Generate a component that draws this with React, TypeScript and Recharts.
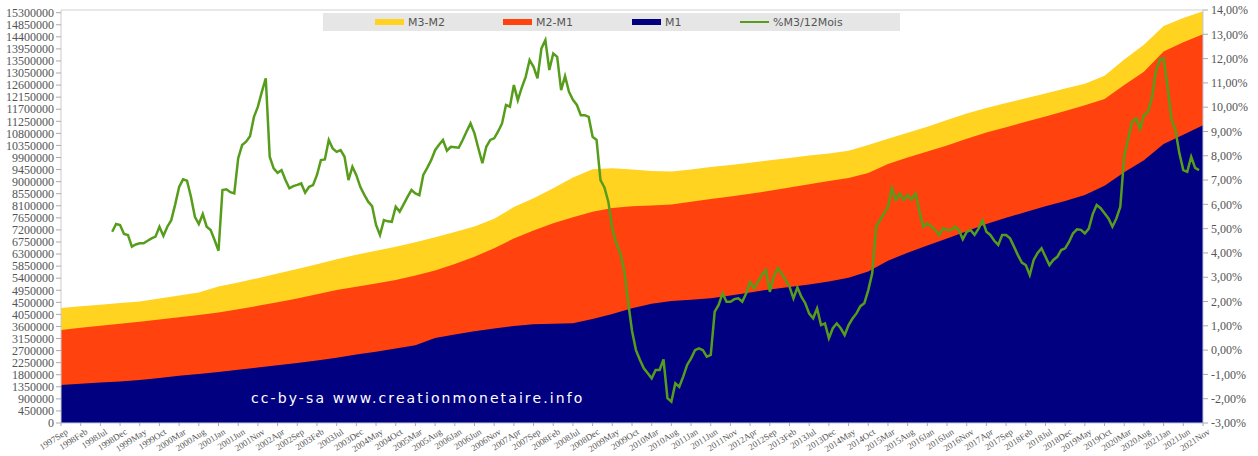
import React from "react";
import { ComposedChart, Area, Line, XAxis, YAxis, ReferenceLine } from "recharts";

// x-axis labels, one every 5 months (also the months the money aggregates are read at)
const TICK_LABELS = [
  "1997Sep", "1998Feb", "1998Jul", "1998Dec", "1999May", "1999Oct", "2000Mar", "2000Aug",
  "2001Jan", "2001Jun", "2001Nov", "2002Apr", "2002Sep", "2003Feb", "2003Jul", "2003Dec",
  "2004May", "2004Oct", "2005Mar", "2005Aug", "2006Jan", "2006Jun", "2006Nov", "2007Apr",
  "2007Sep", "2008Feb", "2008Jul", "2008Dec", "2009May", "2009Oct", "2010Mar", "2010Aug",
  "2011Jan", "2011Jun", "2011Nov", "2012Apr", "2012Sep", "2013Feb", "2013Jul", "2013Dec",
  "2014May", "2014Oct", "2015Mar", "2015Aug", "2016Jan", "2016Jun", "2016Nov", "2017Apr",
  "2017Sep", "2018Feb", "2018Jul", "2018Dec", "2019May", "2019Oct", "2020Mar", "2020Aug",
  "2021Jan", "2021Jun", "2021Nov",
];

// top of each band (M3 total, M2, M1), same months as TICK_LABELS
const M3 = [
  4290000, 4350000, 4410000, 4470000, 4530000, 4640000, 4750000, 4870000, 5090000, 5240000,
  5400000, 5570000, 5740000, 5920000, 6110000, 6270000, 6420000, 6570000, 6740000, 6930000,
  7120000, 7330000, 7620000, 8050000, 8380000, 8750000, 9150000, 9460000, 9500000, 9450000,
  9400000, 9380000, 9450000, 9550000, 9620000, 9700000, 9800000, 9880000, 9970000, 10050000,
  10150000, 10370000, 10600000, 10820000, 11050000, 11300000, 11540000, 11750000, 11930000, 12110000,
  12290000, 12470000, 12650000, 12950000, 13550000, 14100000, 14800000, 15100000, 15350000,
];
const M2 = [
  3470000, 3550000, 3630000, 3700000, 3780000, 3860000, 3940000, 4030000, 4120000, 4240000,
  4370000, 4500000, 4640000, 4800000, 4960000, 5080000, 5200000, 5330000, 5500000, 5690000,
  5930000, 6200000, 6520000, 6880000, 7180000, 7450000, 7670000, 7880000, 8020000, 8080000,
  8110000, 8150000, 8250000, 8350000, 8450000, 8550000, 8660000, 8780000, 8900000, 9020000,
  9140000, 9320000, 9660000, 9900000, 10120000, 10350000, 10600000, 10830000, 11030000, 11230000,
  11430000, 11630000, 11850000, 12080000, 12600000, 13100000, 13850000, 14200000, 14500000,
];
const M1 = [
  1420000, 1460000, 1510000, 1550000, 1600000, 1680000, 1760000, 1830000, 1900000, 1990000,
  2070000, 2150000, 2240000, 2330000, 2430000, 2550000, 2660000, 2780000, 2900000, 3170000,
  3300000, 3420000, 3520000, 3620000, 3680000, 3700000, 3720000, 3880000, 4060000, 4280000,
  4450000, 4550000, 4600000, 4650000, 4750000, 4870000, 4980000, 5070000, 5160000, 5280000,
  5420000, 5650000, 6050000, 6350000, 6620000, 6880000, 7150000, 7420000, 7650000, 7870000,
  8080000, 8280000, 8500000, 8850000, 9350000, 9800000, 10400000, 10750000, 11100000,
];

// %M3 over 12 months, monthly from 1998Oct (month index 13) to 2021Sep
const PCT_START = 13;
const PCT = [
  4.87, 5.19, 5.15, 4.78, 4.74, 4.26, 4.35, 4.4, 4.4, 4.5, 4.6, 4.67, 5.08, 4.7, 5.08, 5.35, 6.0,
  6.72, 7.03, 6.97, 6.31, 5.49, 5.19, 5.6, 5.08, 4.94, 4.53, 4.09, 6.59, 6.62, 6.5, 6.45, 7.9,
  8.44, 8.58, 8.8, 9.6, 10.02, 10.63, 11.19, 7.96, 7.48, 7.3, 7.41, 7.0, 6.66, 6.75, 6.8, 6.86,
  6.48, 6.72, 6.79, 7.21, 7.82, 7.85, 8.65, 8.3, 8.16, 8.23, 7.96, 7.0, 7.55, 7.2, 6.72, 6.4,
  6.11, 5.93, 5.15, 4.74, 5.35, 5.3, 5.28, 5.9, 5.7, 6.0, 6.31, 6.59, 6.45, 6.38, 7.21, 7.5,
  7.82, 8.23, 8.45, 8.65, 8.21, 8.37, 8.35, 8.33, 8.65, 9.0, 9.33, 8.92, 8.3, 7.69, 8.37, 8.65,
  8.72, 9.0, 9.33, 10.09, 10.02, 10.91, 10.29, 10.8, 11.25, 11.94, 11.66, 11.19, 12.42, 12.76,
  11.53, 12.21, 12.07, 10.7, 11.28, 10.63, 10.3, 10.09, 9.67, 9.67, 9.6, 8.78, 8.65, 7.0, 6.7,
  6.1, 5.0, 4.4, 4.0, 3.3, 2.0, 0.8, 0.0, -0.4, -0.75, -0.95, -1.16, -0.82, -0.82, -0.38, -1.98,
  -2.12, -1.37, -1.51, -1.09, -0.61, -0.34, 0.0, 0.07, 0.0, -0.27, -0.2, 1.58, 1.86, 2.34, 1.99,
  1.99, 2.1, 2.13, 1.99, 2.34, 2.81, 2.54, 2.81, 3.1, 3.3, 2.4, 3.02, 3.37, 3.16, 2.88, 2.61,
  2.13, 2.58, 2.2, 1.93, 1.5, 1.31, 1.72, 1.03, 1.1, 0.49, 0.9, 1.1, 0.9, 0.62, 1.03, 1.3, 1.51,
  1.81, 1.93, 2.47, 3.16, 5.08, 5.35, 5.63, 5.9, 6.66, 6.18, 6.45, 6.18, 6.38, 6.2, 6.45, 5.7,
  5.08, 5.22, 5.1, 4.94, 4.74, 5.01, 4.94, 4.94, 5.08, 4.94, 4.56, 4.87, 4.94, 4.74, 5.0, 5.35,
  4.87, 4.74, 4.5, 4.33, 4.74, 4.74, 4.6, 4.26, 3.91, 3.6, 3.5, 3.09, 3.71, 4.0, 4.19, 3.84, 3.5,
  3.71, 3.84, 4.12, 4.19, 4.46, 4.81, 4.97, 4.95, 4.8, 5.0, 5.6, 5.97, 5.84, 5.63, 5.42, 5.08,
  5.42, 5.9, 8.0, 8.7, 9.4, 9.54, 9.1, 9.67, 9.81, 10.36, 11.46, 11.94, 12.01, 10.84, 9.5, 9.06,
  8.1, 7.41, 7.34, 7.96, 7.5, 7.41,
];

const LEFT_TICKS = Array.from({ length: 35 }, (_, i) => i * 450000);
const LEFT_MINOR = Array.from({ length: 341 }, (_, i) => i * 45000);
const RIGHT_TICKS = Array.from({ length: 18 }, (_, i) => i - 3);
const X_TICKS = TICK_LABELS.map((_, i) => i * 5);
const X_MINOR = Array.from({ length: 291 }, (_, i) => i);

const LEGEND = [
  { name: "M3-M2", color: "#ffd320", kind: "box", left: 52 },
  { name: "M2-M1", color: "#ff420e", kind: "box", left: 180 },
  { name: "M1", color: "#000080", kind: "box", left: 309 },
  { name: "%M3/12Mois", color: "#579d1c", kind: "line", left: 417 },
];

type Row = { t: number; m3?: number; m2?: number; m1?: number; pct?: number };

const rows: Row[] = X_MINOR.map((t) => ({ t }));
X_TICKS.forEach((t, i) => {
  rows[t].m3 = M3[i];
  rows[t].m2 = M2[i];
  rows[t].m1 = M1[i];
});
PCT.forEach((v, j) => {
  rows[PCT_START + j].pct = v;
});

const serif = "'Liberation Serif', 'DejaVu Serif', serif";
const sans = "'DejaVu Sans', Verdana, sans-serif";

export default function App() {
  return (
    <div style={{ position: "absolute", left: 0, top: 0, width: 1258, height: 456, background: "#fff" }}>
      <ComposedChart width={1258} height={456} data={rows} margin={{ top: 10, right: 0, bottom: 0, left: 0 }}>
        <XAxis
          xAxisId="minor"
          dataKey="t"
          type="number"
          domain={[0, 290]}
          ticks={X_MINOR}
          interval={0}
          height={0}
          tick={false}
          tickSize={3}
          tickLine={{ stroke: "#b8bfd8" }}
          axisLine={false}
        />
        <XAxis
          dataKey="t"
          type="number"
          domain={[0, 290]}
          ticks={X_TICKS}
          interval={0}
          height={33}
          tickFormatter={(v: number) => TICK_LABELS[Math.round(v / 5)]}
          angle={-33}
          textAnchor="end"
          tickSize={3}
          tickMargin={2}
          tick={{ fontFamily: serif, fontSize: 9, fill: "#555", dx: 4 }}
          tickLine={{ stroke: "#aaa" }}
          axisLine={{ stroke: "#c8c8d8" }}
        />
        <YAxis
          yAxisId="leftMinor"
          type="number"
          domain={[0, 15400000]}
          ticks={LEFT_MINOR}
          interval={0}
          width={0}
          tick={false}
          tickSize={4}
          tickLine={{ stroke: "#c4c4c4" }}
          axisLine={false}
        />
        <YAxis
          yAxisId="left"
          type="number"
          domain={[0, 15400000]}
          ticks={LEFT_TICKS}
          interval={0}
          width={61}
          tickSize={5}
          tickMargin={2}
          tickFormatter={(v: number) => String(v)}
          tick={{ fontFamily: serif, fontSize: 12, fill: "#555" }}
          tickLine={{ stroke: "#aaa" }}
          axisLine={{ stroke: "#ccc" }}
        />
        <YAxis
          yAxisId="right"
          orientation="right"
          type="number"
          domain={[-3, 14]}
          ticks={RIGHT_TICKS}
          interval={0}
          width={55}
          tickSize={5}
          tickMargin={3}
          tickFormatter={(v: number) => v.toFixed(2).replace(".", ",") + "%"}
          tick={{ fontFamily: serif, fontSize: 12, fill: "#555", textAnchor: "start" }}
          tickLine={{ stroke: "#aaa" }}
          axisLine={{ stroke: "#c0c8dc" }}
        />
        <ReferenceLine yAxisId="left" y={15400000} stroke="#d0d0d0" />
        <Area yAxisId="left" dataKey="m3" name="M3-M2" type="linear" stroke="none" fill="#ffd320" fillOpacity={1} connectNulls isAnimationActive={false} />
        <Area yAxisId="left" dataKey="m2" name="M2-M1" type="linear" stroke="none" fill="#ff420e" fillOpacity={1} connectNulls isAnimationActive={false} />
        <Area yAxisId="left" dataKey="m1" name="M1" type="linear" stroke="none" fill="#000080" fillOpacity={1} connectNulls isAnimationActive={false} />
        <Line yAxisId="right" dataKey="pct" name="%M3/12Mois" type="linear" stroke="#579d1c" strokeWidth={2.5} dot={false} connectNulls isAnimationActive={false} />
      </ComposedChart>

      <div style={{ position: "absolute", left: 323, top: 13, width: 577, height: 18, background: "#e6e6e6" }}>
        {LEGEND.map((item) => (
          <div key={item.name} style={{ position: "absolute", left: item.left, top: 0, height: 18, display: "flex", alignItems: "center" }}>
            {item.kind === "box" ? (
              <div style={{ width: 29, height: 6, background: item.color }} />
            ) : (
              <div style={{ width: 29, height: 2, background: item.color }} />
            )}
            <span style={{ marginLeft: 4, fontFamily: sans, fontSize: 11, color: "#555" }}>{item.name}</span>
          </div>
        ))}
      </div>

      <div style={{ position: "absolute", left: 251, top: 391, fontFamily: sans, fontSize: 14, lineHeight: "14px", letterSpacing: 2.1, color: "#fff", whiteSpace: "nowrap" }}>
        cc-by-sa www.creationmonetaire.info
      </div>
    </div>
  );
}
